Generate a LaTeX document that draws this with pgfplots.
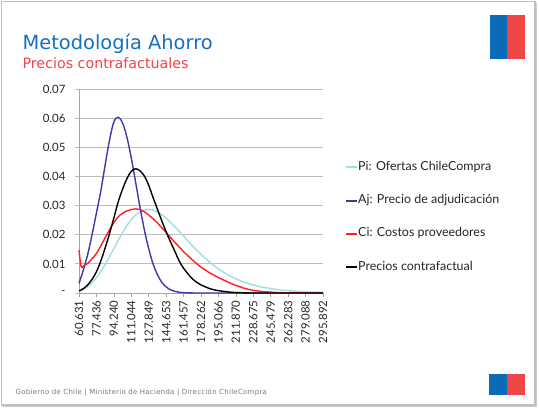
\documentclass[border=0pt]{standalone}
\usepackage{fontspec}
\setmainfont{Lato}
\newfontfamily\titlefont{DejaVu Sans}
\newfontfamily\footfont[LetterSpace=4]{DejaVu Sans}
\usepackage{pgfplots}
\pgfplotsset{compat=1.18}
\usepackage{pgfplotstable}
\definecolor{cy}{HTML}{9FDFDF}
\definecolor{bl}{HTML}{3A3AA8}
\definecolor{rd}{HTML}{FF1F1F}
\definecolor{tblue}{HTML}{1470C0}
\definecolor{tred}{HTML}{F0444A}
\definecolor{fblue}{HTML}{0C6BB6}
\definecolor{fred}{HTML}{EF4646}
\definecolor{gridc}{HTML}{BDBDBD}
\definecolor{axc}{HTML}{A6A6A6}

\pgfplotstableread{
x y
60.631 0.00065
64.832 0.00125
69.033 0.00217
73.234 0.00349
77.436 0.00521
81.637 0.00734
85.838 0.0098
90.039 0.0125
94.240 0.0153
98.441 0.0181
102.642 0.0208
106.843 0.0232
111.044 0.0252
115.245 0.0268
119.446 0.0279
123.647 0.0285
127.849 0.0287
132.050 0.0285
136.251 0.0278
140.452 0.0269
144.653 0.0257
148.854 0.0243
153.055 0.0228
157.256 0.0212
161.457 0.0196
165.659 0.0179
169.860 0.0163
174.061 0.0148
178.262 0.0133
182.463 0.0119
186.664 0.0106
190.865 0.0094
195.066 0.0083
199.267 0.0073
203.468 0.0064
207.669 0.0056
211.870 0.0049
216.072 0.0043
220.273 0.0037
224.474 0.0032
228.675 0.0028
232.876 0.0024
237.077 0.0020
241.278 0.0018
245.479 0.0015
249.680 0.0013
253.881 0.0011
258.082 0.00095
262.283 0.0008
266.485 0.0007
270.686 0.0006
274.887 0.0005
279.088 0.00043
283.289 0.00037
287.490 0.00031
291.691 0.00027
295.892 0.00023
}\tabPi

\pgfplotstableread{
x y
60.631 0.0033
64.832 0.0079
69.033 0.0133
73.234 0.0201
77.436 0.0275
81.637 0.0350
85.838 0.0440
90.039 0.0525
94.240 0.0588
98.441 0.0604
102.642 0.0584
106.843 0.0535
111.044 0.0464
115.245 0.0380
119.446 0.0295
123.647 0.0217
127.849 0.0152
132.050 0.0100
136.251 0.0063
140.452 0.0037
144.653 0.0021
148.854 0.0011
153.055 0.00055
157.256 0.00026
161.457 0.00012
165.659 0.00005
169.860 0.00002
174.061 0
178.262 0
295.892 0
}\tabAj

\pgfplotstableread{
x y
60.631 0.0147
62.732 0.0090
64.832 0.0093
69.033 0.0102
73.234 0.0118
77.436 0.0136
81.637 0.0162
85.838 0.0190
90.039 0.0217
94.240 0.0242
98.441 0.0262
102.642 0.0274
106.843 0.0282
111.044 0.0287
115.245 0.0289
119.446 0.0287
123.647 0.0279
127.849 0.0268
132.050 0.0255
136.251 0.0241
140.452 0.0224
144.653 0.0208
148.854 0.0191
153.055 0.0174
157.256 0.0158
161.457 0.0142
165.659 0.0128
169.860 0.0114
174.061 0.0101
178.262 0.0089
182.463 0.0079
186.664 0.0069
190.865 0.0061
195.066 0.0053
199.267 0.0046
203.468 0.0039
207.669 0.0032
211.870 0.0026
216.072 0.0021
220.273 0.0016
224.474 0.0012
228.675 0.0009
232.876 0.0007
237.077 0.0005
241.278 0.0004
245.479 0.0003
249.680 0.0002
253.881 0.00015
258.082 0.0001
262.283 0.00007
266.485 0.00005
270.686 0.00003
274.887 0.00002
279.088 0
295.892 0
}\tabCi

\pgfplotstableread{
x y
60.631 0.0007
64.832 0.0015
69.033 0.0028
73.234 0.0047
77.436 0.0073
81.637 0.0110
85.838 0.0155
90.039 0.0204
94.240 0.0258
98.441 0.0313
102.642 0.0357
106.843 0.0393
111.044 0.0418
115.245 0.0427
119.446 0.0420
123.647 0.0402
127.849 0.0370
132.050 0.0328
136.251 0.0288
140.452 0.0248
144.653 0.0210
148.854 0.0176
153.055 0.0143
157.256 0.0110
161.457 0.0085
165.659 0.0066
169.860 0.0049
174.061 0.0037
178.262 0.0028
182.463 0.0021
186.664 0.0015
190.865 0.0011
195.066 0.0008
199.267 0.0006
203.468 0.0004
207.669 0.00025
211.870 0.00015
216.072 0.0001
220.273 0.00005
224.474 0.00002
228.675 0
232.876 0
295.892 0
}\tabPc

\begin{document}
\begin{tikzpicture}
\begin{scope}[x=1bp,y=1bp]
\useasboundingbox (0,0) rectangle (539,409);
\fill[white] (0,0) rectangle (539,409);
\fill[gray!40] (3,2) rectangle (537,406);
\filldraw[fill=white, draw=gray!50, line width=1.2] (1.5,4) rectangle (535,407.3);
\fill[fblue] (489.5,349.8) rectangle (507.3,393.5);
\fill[fred] (507.3,349.8) rectangle (525,393.5);
\fill[fblue] (489,14.3) rectangle (507,34.7);
\fill[fred] (507,14.3) rectangle (525,34.7);
\node[anchor=base west, inner sep=0, text=tblue, font=\titlefont\fontsize{19.5}{20}\selectfont] at (22.4,359.1) {Metodología Ahorro};
\node[anchor=base west, inner sep=0, text=tred, font=\titlefont\fontsize{14.3}{15}\selectfont] at (22.4,340.2) {Precios contrafactuales};
\node[anchor=base west, inner sep=0, text=gray!95!black, font=\footfont\fontsize{7}{7.5}\selectfont] at (15.5,14.6) {Gobierno de Chile | Ministerio de Hacienda | Dirección ChileCompra};
\end{scope}
\begin{axis}[
  at={(79bp,116bp)}, anchor=south west,
  scale only axis, width=244bp, height=203.7bp,
  xmin=60.631, xmax=295.892, ymin=0, ymax=0.07,
  clip=false,
  axis x line*=bottom, axis y line*=left,
  axis line style={draw=axc, line width=0.9bp},
  ymajorgrids, grid style={draw=gridc, line width=1bp},
  tick align=outside,
  major tick length=4bp, minor tick length=4bp,
  xtick style={draw=axc, line width=0.6bp},
  ytick style={draw=gridc, line width=1bp},
  minor x tick num=7,
  scaled y ticks=false,
  /pgf/number format/assume math mode=true,
  tick label style={font=\fontsize{11.5}{12}\selectfont, text=black!85},
  xtick={60.631,77.436,94.240,111.044,127.849,144.653,161.457,178.262,195.066,211.870,228.675,245.479,262.283,279.088,295.892},
  xticklabels={60.631,77.436,94.240,111.044,127.849,144.653,161.457,178.262,195.066,211.870,228.675,245.479,262.283,279.088,295.892},
  x tick label style={rotate=90, anchor=east},
  ytick={0,0.01,0.02,0.03,0.04,0.05,0.06,0.07},
  yticklabels={-,0.01,0.02,0.03,0.04,0.05,0.06,0.07},
  y tick label style={xshift=-6bp},
  every axis plot/.append style={line width=1.4bp, no markers, smooth, tension=0.55},
  legend style={at={(1.0902,0.372)}, anchor=west, draw=none, fill=none,
    inner sep=0pt, row sep=21.3bp, font=\fontsize{12.5}{13}\selectfont, text=black!85,
    nodes={inner sep=0pt, text height=9bp, text depth=3bp}},
  legend cell align=left,
  legend image code/.code={\draw[#1, line width=2bp] (0bp,0bp) -- (11bp,0bp);},
]
\addplot[cy] table[x=x,y=y] {\tabPi};
\addlegendentry{Pi: Ofertas ChileCompra}
\addplot[bl] table[x=x,y=y] {\tabAj};
\addlegendentry{Aj: Precio de adjudicación}
\addplot[rd] table[x=x,y=y] {\tabCi};
\addlegendentry{Ci: Costos proveedores}
\addplot[black] table[x=x,y=y] {\tabPc};
\addlegendentry{Precios contrafactual}
\end{axis}
\end{tikzpicture}
\end{document}
